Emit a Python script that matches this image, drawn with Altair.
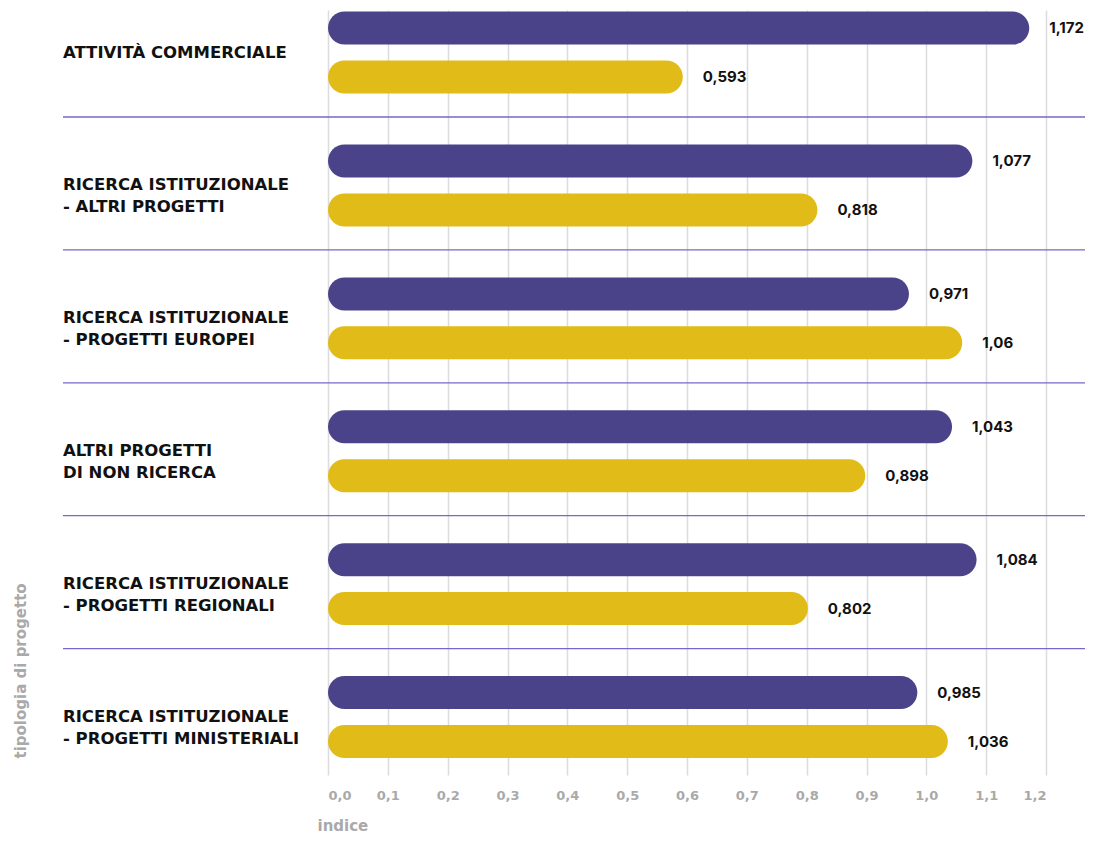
import altair as alt
import pandas as pd

# ---- data ----
categories = [
    ["ATTIVITÀ COMMERCIALE"],
    ["RICERCA ISTITUZIONALE", "- ALTRI PROGETTI"],
    ["RICERCA ISTITUZIONALE", "- PROGETTI EUROPEI"],
    ["ALTRI PROGETTI", "DI NON RICERCA"],
    ["RICERCA ISTITUZIONALE", "- PROGETTI REGIONALI"],
    ["RICERCA ISTITUZIONALE", "- PROGETTI MINISTERIALI"],
]
series_names = ["serie 1", "serie 2"]
purple_values = [1.172, 1.077, 0.971, 1.043, 1.084, 0.985]
yellow_values = [0.593, 0.818, 1.06, 0.898, 0.802, 1.036]
x_ticks = [0.0, 0.1, 0.2, 0.3, 0.4, 0.5, 0.6, 0.7, 0.8, 0.9, 1.0, 1.1, 1.2]

PURPLE = "#4b4389"
YELLOW = "#e1bb17"
GREY = "#a9a9a9"
FONT = "DejaVu Sans"
NUM_FONT = "Inter"

offsets = {series_names[0]: -0.184, series_names[1]: 0.184}

rows = []
for i, (pv, yv) in enumerate(zip(purple_values, yellow_values)):
    for s, v in zip(series_names, (pv, yv)):
        rows.append({"group": i, "serie": s, "value": v, "pos": i + offsets[s]})
bars_df = pd.DataFrame(rows)

labels_df = pd.DataFrame({"group": list(range(len(categories))), "label": categories})
sep_df = pd.DataFrame({"pos": [i + 0.485 for i in range(len(categories) - 1)]})

y_scale = alt.Scale(domain=[-0.32, 5.436], reverse=True, nice=False, zero=False, padding=0)
x_scale = alt.Scale(domain=[0, 1.2], nice=False, padding=0)

bars = alt.Chart(bars_df).mark_bar(
    orient="horizontal", size=33, cornerRadius=16.5
).encode(
    x=alt.X(
        "value:Q",
        scale=x_scale,
        axis=alt.Axis(
            values=x_ticks,
            labelExpr="replace(format(datum.value, '.1f'), '.', ',')",
            labelColor=GREY,
            labelFont=FONT,
            labelFontWeight="bold",
            labelFontSize=13,
            labelPadding=14,
            ticks=False,
            domain=False,
            grid=True,
            gridColor="#dcdcdc",
            gridWidth=1.5,
            title="indice",
            titleFont=FONT,
            titleFontSize=15,
            titleFontWeight="bold",
            titleColor=GREY,
            titleX=-11,
            titleY=50,
            titleAlign="left",
            titleBaseline="middle",
        ),
    ),
    x2=alt.datum(0),
    y=alt.Y(
        "pos:Q",
        scale=y_scale,
        axis=alt.Axis(
            labels=False,
            ticks=False,
            domain=False,
            grid=False,
            title="tipologia di progetto",
            titleFont=FONT,
            titleFontSize=15,
            titleFontWeight="bold",
            titleColor=GREY,
            titleAngle=270,
            titleX=-308,
            titleY=748,
            titleAlign="left",
            titleBaseline="middle",
        ),
    ),
    color=alt.Color(
        "serie:N",
        scale=alt.Scale(domain=series_names, range=[PURPLE, YELLOW]),
        legend=None,
    ),
)

value_labels = alt.Chart(bars_df).transform_calculate(
    txt="replace(toString(datum.value), '.', ',')"
).mark_text(
    align="left", baseline="middle", dx=20, font=NUM_FONT, fontWeight="bold",
    fontSize=15, color="#111111"
).encode(
    x=alt.X("value:Q"),
    y=alt.Y("pos:Q"),
    text="txt:N",
)

cat_labels = alt.Chart(labels_df).mark_text(
    align="left", baseline="middle", font=FONT, fontWeight="bold",
    fontSize=16.5, color="#111111", lineHeight=22
).encode(
    x=alt.value(-265),
    y=alt.Y("group:Q"),
    text="label",
)

separators = alt.Chart(sep_df).mark_rule(color="#7468c9", strokeWidth=1.3).encode(
    x=alt.value(-265),
    x2=alt.value(757),
    y=alt.Y("pos:Q"),
)

chart = alt.layer(separators, bars, value_labels, cat_labels).properties(
    width=718,
    height=765,
    autosize=alt.AutoSizeParams(type="none"),
    padding={"left": 320, "top": 2, "right": 39, "bottom": 61},
).configure_view(stroke=None)

chart.save("out.html", embed_options={"renderer": "svg", "actions": False})
